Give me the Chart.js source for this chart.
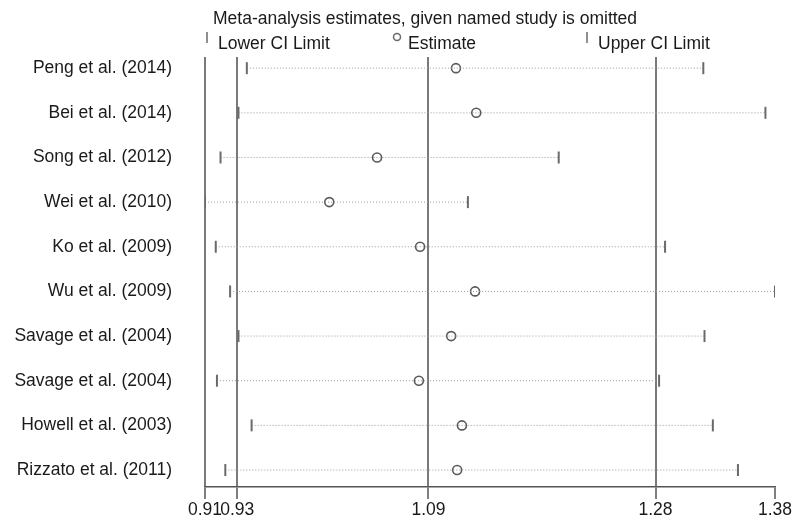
<!DOCTYPE html>
<html>
<head>
<meta charset="utf-8">
<title>Meta-analysis estimates, given named study is omitted</title>
<script src="https://cdn.jsdelivr.net/npm/chart.js@4/dist/chart.umd.min.js"></script>
<style>
  body { margin: 0; background: #fff; }
  canvas { display: block; }
</style>
</head>
<body>
<canvas id="myChart" width="797" height="521"></canvas>
<script>
// studies, top to bottom
const studies = [
    'Peng et al. (2014)',
    'Bei et al. (2014)',
    'Song et al. (2012)',
    'Wei et al. (2010)',
    'Ko et al. (2009)',
    'Wu et al. (2009)',
    'Savage et al. (2004)',
    'Savage et al. (2004)',
    'Howell et al. (2003)',
    'Rizzato et al. (2011)'
];
const lowerCI  = [0.938, 0.931, 0.916, 0.903, 0.912, 0.924, 0.931, 0.913, 0.942, 0.920];
const estimate = [1.113, 1.130, 1.047, 1.007, 1.083, 1.129, 1.109, 1.082, 1.118, 1.114];
const upperCI  = [1.320, 1.372, 1.199, 1.123, 1.288, 1.380, 1.321, 1.283, 1.328, 1.349];

// x axis ticks as printed
const xTickValues = [0.903, 0.93, 1.09, 1.28, 1.38];
const xTickLabels = ['0.91', '0.93', '1.09', '1.28', '1.38'];

const chartTitle = 'Meta-analysis estimates, given named study is omitted';
const legendItems = ['Lower CI Limit', 'Estimate', 'Upper CI Limit'];

const FONT = '"Liberation Sans", Arial, sans-serif';
const FONT_SIZE = 17.5;
const textColor = '#1a1a1a';

// one dotted line per study with end ticks
const datasets = studies.map((name, i) => ({
    type: 'line',
    label: name,
    data: [{ x: lowerCI[i], y: i + 1 }, { x: upperCI[i], y: i + 1 }],
    borderColor: '#9a9a9a',
    borderWidth: 1,
    borderDash: [1, 2],
    pointStyle: 'line',
    rotation: 90,
    pointRadius: 6,
    pointBorderWidth: 2,
    pointBorderColor: '#6a6a6a',
    pointHoverRadius: 6
}));

datasets.push({
    type: 'scatter',
    label: 'Estimate',
    data: estimate.map((v, i) => ({ x: v, y: i + 1 })),
    pointStyle: 'circle',
    pointRadius: 4.5,
    pointBorderWidth: 1.6,
    pointBorderColor: '#5a5a5a',
    pointBackgroundColor: 'rgba(0,0,0,0)'
});

// title + legend drawn above the plot, legend in 3 columns over the plot width
const headerPlugin = {
    id: 'header',
    afterDraw(chart) {
        const ctx = chart.ctx;
        const area = chart.chartArea;
        ctx.save();
        ctx.font = FONT_SIZE + 'px ' + FONT;
        ctx.fillStyle = textColor;
        ctx.textBaseline = 'middle';
        ctx.textAlign = 'left';
        ctx.fillText(chartTitle, area.left + 8, 19);

        const colW = (area.right - area.left) / 3;
        legendItems.forEach((txt, i) => {
            const mx = area.left + i * colW + 2;
            ctx.strokeStyle = '#6a6a6a';
            ctx.lineWidth = 1.5;
            ctx.beginPath();
            if (i === 1) {
                ctx.arc(mx, 37, 3.5, 0, Math.PI * 2);
            } else {
                ctx.moveTo(mx, 32);
                ctx.lineTo(mx, 43);
            }
            ctx.stroke();
            ctx.fillStyle = textColor;
            ctx.fillText(txt, mx + 11, 44);
        });
        ctx.restore();
    }
};

const ctx = document.getElementById('myChart').getContext('2d');
new Chart(ctx, {
    data: { datasets: datasets },
    options: {
        responsive: false,
        animation: false,
        layout: { padding: { top: 57, right: 22, left: 0, bottom: 0 } },
        plugins: {
            legend: { display: false },
            title: { display: false },
            tooltip: { enabled: false }
        },
        scales: {
            x: {
                type: 'linear',
                min: Math.min(...lowerCI),
                max: Math.max(...upperCI),
                afterBuildTicks: (scale) => {
                    scale.ticks = xTickValues.map(v => ({ value: v }));
                },
                afterFit: (scale) => { scale.height = 34; },
                grid: {
                    color: (c) => c.index === xTickValues.length - 1 ? 'rgba(0,0,0,0)' : '#7a7a7a',
                    lineWidth: 2,
                    tickColor: '#555',
                    tickLength: 12,
                    tickWidth: 1.5
                },
                border: { display: true, color: '#555', width: 1.5 },
                ticks: {
                    autoSkip: false,
                    maxRotation: 0,
                    padding: 1,
                    color: textColor,
                    font: { family: FONT, size: FONT_SIZE },
                    callback: (value, index) => xTickLabels[index]
                }
            },
            y: {
                type: 'linear',
                reverse: true,
                min: 0.75,
                max: 10.38,
                afterBuildTicks: (scale) => {
                    scale.ticks = studies.map((s, i) => ({ value: i + 1 }));
                },
                afterFit: (scale) => {
                    scale.width = 205;
                    scale.paddingTop = 0;
                    scale.paddingBottom = 0;
                },
                grid: { display: false, drawTicks: false },
                border: { display: false },
                ticks: {
                    autoSkip: false,
                    padding: 33,
                    color: textColor,
                    font: { family: FONT, size: FONT_SIZE },
                    callback: (value) => studies[value - 1]
                }
            }
        }
    },
    plugins: [headerPlugin]
});
</script>
</body>
</html>
